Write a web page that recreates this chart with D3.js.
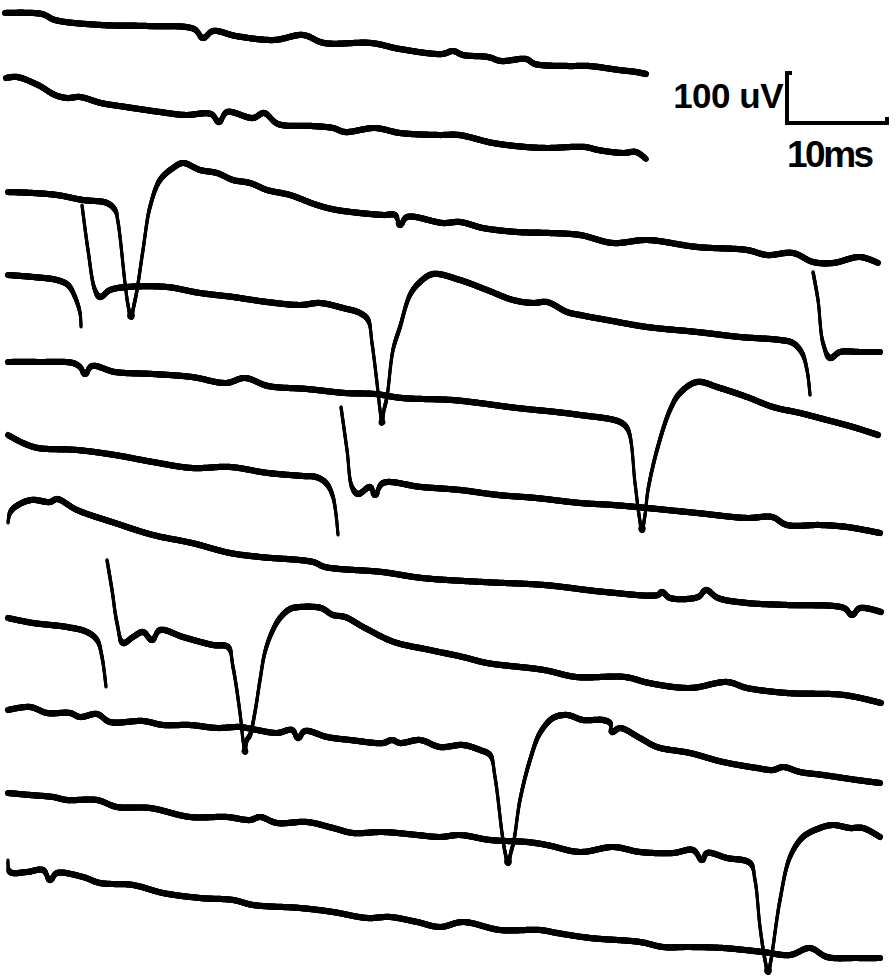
<!DOCTYPE html>
<html><head><meta charset="utf-8">
<script src="https://cdn.jsdelivr.net/npm/d3@7"></script>
<style>html,body{margin:0;padding:0;background:#fff;} svg{display:block;}</style>
</head><body>
<script>
// Time in ms, potential in uV (stacked sweeps, positive = up)
const sweep1 = [[0.5,-26],[4.2,-28],[5.5,-40],[10.1,-50],[14.7,-52],[19.4,-58],[20.3,-76],[21.3,-62],[23.6,-72],[27.4,-80],[30.3,-70],[32.4,-86],[37.1,-86],[40,-98],[44.2,-108],[45.3,-102],[46.3,-110],[48.8,-114],[50.1,-122],[52.6,-118],[53.5,-128],[56.8,-132],[58.9,-132],[61.9,-140],[63.6,-144],[64.6,-148]];
const sweep2 = [[0.6,-156],[1.7,-154],[3.8,-170],[5.5,-190],[6.7,-196],[8,-194],[10.1,-206],[12.6,-214],[16,-224],[18.5,-230],[21.1,-228],[21.9,-244],[22.7,-224],[25.3,-236],[26.4,-226],[27.8,-248],[31.2,-252],[33.3,-256],[34.5,-264],[37.5,-256],[40,-266],[43.8,-270],[45.9,-270],[49.3,-286],[52.6,-294],[54.7,-296],[58.5,-294],[59.8,-300],[62.3,-306],[63.6,-304],[64.6,-318]];
const sweep3 = [[0.8,-384],[3.3,-386],[5.7,-390],[8.3,-400],[10.7,-406],[11.5,-420],[11.8,-444],[12.5,-566],[12.8,-610],[13.1,-634],[13.4,-610],[13.7,-580],[14.3,-500],[15,-414],[16,-360],[17.3,-336],[18.3,-326],[20,-340],[21.7,-346],[23.3,-360],[25,-366],[26.7,-380],[29,-390],[31.7,-410],[33.7,-420],[38.3,-430],[39.5,-430],[40,-450],[40.7,-434],[44.3,-446],[46,-444],[48.3,-456],[51.7,-464],[55,-466],[58,-470],[61.3,-486],[64.7,-480],[69.7,-494],[74.7,-500],[76.7,-510],[79.3,-506],[81.3,-524],[83.3,-526],[86,-514],[87.8,-526]];
const sweep4a = [[0.8,-550],[3.3,-554],[5.7,-560],[6.8,-570],[7.5,-594],[8,-626],[8.1,-654]];
const sweep4b = [[8.2,-410],[8.8,-500],[9.5,-580],[10,-594],[11,-580],[12.7,-574],[16.7,-574],[20,-586],[23.3,-594],[26.7,-604],[30,-610],[32,-606],[34.3,-616],[36,-626],[36.8,-640],[37.2,-686],[37.7,-766],[38,-820],[38.2,-846],[38.4,-820],[38.7,-794],[39.3,-700],[40,-654],[41,-590],[42,-564],[43.3,-548],[46,-560],[48.7,-580],[51.3,-600],[53.3,-606],[54.7,-604],[56.7,-624],[58,-630],[60.7,-640],[64.7,-654],[69.7,-664],[74,-674],[78,-680],[79.3,-686],[80.2,-706],[80.7,-740],[81,-790]];
const sweep4c = [[81.3,-544],[81.8,-600],[82.3,-686],[83,-716],[84,-704],[86,-704],[88,-704]];
const sweep5 = [[0.8,-724],[3.8,-724],[7.3,-726],[8,-734],[8.5,-748],[9.2,-732],[11.5,-744],[15.3,-748],[19.2,-754],[22.6,-766],[24.5,-756],[26.8,-772],[30.7,-778],[34.5,-786],[37.5,-788],[40.2,-796],[45.2,-800],[47.9,-806],[51.7,-816],[55.6,-824],[58,-830],[62,-844],[62.8,-860],[63.5,-966],[63.9,-1030],[64.2,-1060],[64.5,-1030],[64.8,-980],[65.7,-900],[67,-820],[68,-786],[69.7,-764],[72,-776],[74.7,-794],[77.3,-814],[80,-826],[82.7,-840],[85.3,-854],[87.8,-870]];
const sweep6a = [[0.8,-870],[2.3,-886],[3.8,-896],[7.7,-900],[11.5,-910],[15.3,-924],[19.2,-936],[23,-934],[26.8,-946],[30.3,-952],[31.6,-954],[32.6,-966],[33.3,-994],[33.8,-1070]];
const sweep6b = [[34.1,-814],[34.7,-900],[35.2,-974],[35.8,-988],[37,-974],[37.5,-990],[38.3,-966],[42.1,-974],[46,-980],[49.8,-990],[53.6,-996],[58,-1006],[61.3,-1010],[64.7,-1016],[69.7,-1026],[74.7,-1036],[77.2,-1034],[78.7,-1050],[82,-1050],[84.7,-1054],[88,-1066]];
const sweep7 = [[0.8,-1046],[1,-1026],[1.5,-1014],[3.1,-1000],[5,-1004],[5.7,-998],[7.7,-1020],[11.5,-1046],[15.3,-1070],[19.2,-1086],[23,-1106],[26,-1114],[31.3,-1124],[32.5,-1134],[38.2,-1144],[42.2,-1156],[48.3,-1164],[54.4,-1170],[60.5,-1184],[65.8,-1190],[66.2,-1184],[67,-1196],[69.8,-1194],[70.6,-1180],[71.8,-1196],[74.7,-1206],[78.7,-1210],[84.4,-1216],[85.2,-1230],[86,-1216],[88.1,-1224]];
const sweep8a = [[0.8,-1236],[3.3,-1246],[6.7,-1254],[8.7,-1264],[9.7,-1280],[10.2,-1314],[10.6,-1374]];
const sweep8b = [[10.7,-1120],[11.2,-1180],[11.7,-1246],[12.3,-1286],[13.3,-1274],[14.3,-1264],[15.2,-1280],[16,-1260],[18.3,-1274],[21.3,-1290],[22.8,-1294],[23.3,-1334],[24,-1426],[24.3,-1480],[24.5,-1504],[24.7,-1480],[25,-1470],[25.5,-1424],[26,-1360],[26.5,-1304],[27.2,-1264],[28,-1236],[29,-1218],[30,-1214],[32.1,-1216],[33.3,-1230],[34.5,-1234],[36.5,-1256],[39.4,-1284],[43,-1300],[46.3,-1314],[48.7,-1326],[54.4,-1340],[57.6,-1354],[62.5,-1354],[64.9,-1366],[69,-1376],[72.7,-1364],[74.7,-1376],[78.7,-1386],[84.4,-1390],[88.1,-1406]];
const sweep9 = [[0.8,-1420],[3,-1414],[4.7,-1426],[7,-1426],[8,-1434],[9.7,-1428],[11,-1444],[14.3,-1442],[16.3,-1450],[19,-1450],[21.7,-1456],[24,-1454],[25.7,-1460],[27.7,-1466],[29.2,-1460],[29.8,-1476],[30.5,-1462],[32.7,-1474],[35,-1480],[38.3,-1486],[39.2,-1480],[40,-1486],[42,-1480],[44,-1494],[46.3,-1490],[48,-1500],[49,-1510],[49.5,-1554],[50.2,-1666],[50.5,-1704],[50.8,-1726],[51.1,-1704],[51.4,-1680],[52,-1600],[53,-1520],[54,-1466],[55.3,-1436],[56.7,-1430],[58.3,-1440],[60.3,-1440],[61,-1446],[61.2,-1464],[62,-1456],[64,-1476],[65.7,-1494],[69,-1506],[72.3,-1524],[75.7,-1536],[77.3,-1540],[78.3,-1534],[80,-1544],[82.3,-1550],[85.7,-1560],[88,-1566]];
const sweep10 = [[0.8,-1586],[3,-1590],[5.3,-1594],[6.7,-1600],[9.7,-1600],[11.7,-1614],[15,-1616],[19,-1634],[22.7,-1634],[25,-1640],[26,-1634],[27.7,-1646],[30.7,-1644],[33.3,-1656],[35.3,-1666],[38.3,-1664],[41.7,-1670],[44,-1674],[46,-1670],[49,-1680],[52.7,-1684],[54.7,-1690],[58,-1704],[61.3,-1694],[64,-1704],[67.3,-1706],[69.3,-1700],[70.2,-1720],[70.7,-1706],[72.7,-1716],[75,-1726],[75.5,-1760],[76,-1854],[76.5,-1920],[76.8,-1944],[77.1,-1920],[77.3,-1894],[78,-1800],[79,-1714],[80.3,-1674],[82,-1656],[83.3,-1650],[85,-1656],[86.3,-1656],[88,-1674]];
const sweep11 = [[0.8,-1720],[1,-1744],[2.7,-1744],[4.3,-1740],[5,-1760],[5.7,-1746],[8.3,-1754],[10,-1766],[13.3,-1770],[16.3,-1786],[20,-1796],[23.3,-1800],[25.3,-1810],[30,-1816],[33.3,-1824],[36.7,-1836],[39,-1834],[41.7,-1844],[44,-1854],[46.3,-1844],[50,-1860],[54,-1860],[55.7,-1866],[59,-1876],[64,-1884],[66.3,-1894],[69,-1894],[72.3,-1896],[76.3,-1904],[79,-1910],[81,-1896],[82.7,-1914],[85.7,-1916],[88,-1916]];

const segments = [sweep1, sweep2, sweep3, sweep4a, sweep4b, sweep4c, sweep5, sweep6a, sweep6b, sweep7, sweep8a, sweep8b, sweep9, sweep10, sweep11];

// scale bar values
const barMs = 10;
const barUv = 100;
const barOrigin = [78.7, -246];
const barLabelV = "100 uV";
const barLabelT = "10ms";

const W = 896, H = 977;
const x = d3.scaleLinear().domain([0, 89.6]).range([0, W]);
const y = d3.scaleLinear().domain([0, -1954]).range([0, H]);

const svg = d3.select("body").append("svg").attr("width", W).attr("height", H);
svg.append("rect").attr("width", W).attr("height", H).attr("fill", "#fff");

const line = d3.line().x(d => x(d[0])).y(d => y(d[1])).curve(d3.curveCatmullRom.alpha(0.5));
const tmp = svg.append("path").attr("fill", "none").attr("stroke", "none");
const g = svg.append("g").attr("stroke", "#000").attr("stroke-linecap", "round").attr("fill", "none");

segments.forEach(seg => {
  tmp.attr("d", line(seg));
  const node = tmp.node();
  const L = node.getTotalLength();
  const step = 1.2;
  const pts = [];
  for (let s = 0; s <= L; s += step) { const p = node.getPointAtLength(s); pts.push([p.x, p.y]); }
  const pe = node.getPointAtLength(L); pts.push([pe.x, pe.y]);
  for (let i = 0; i < pts.length - 1; i++) {
    const a = pts[Math.max(0, i - 2)], b = pts[Math.min(pts.length - 1, i + 3)];
    const dx = Math.abs(b[0] - a[0]), dy = Math.abs(b[1] - a[1]);
    const slope = dy / Math.max(dx, 0.05);
    const w = 3.0 + 3.2 / (1 + Math.pow(slope / 2.2, 2));
    g.append("line").attr("x1", pts[i][0]).attr("y1", pts[i][1])
      .attr("x2", pts[i + 1][0]).attr("y2", pts[i + 1][1]).attr("stroke-width", w);
  }
});
tmp.remove();

// scale bar
const sb = svg.append("g").attr("stroke", "#000").attr("fill", "none").attr("stroke-width", 4).attr("stroke-linejoin", "miter");
const bx0 = x(barOrigin[0]), by0 = y(barOrigin[1]);
const bx1 = x(barOrigin[0] + barMs), by1 = y(barOrigin[1] + barUv);
sb.append("path").attr("d", `M${bx0 + 5},${by1} L${bx0},${by1} L${bx0},${by0} L${bx1},${by0} L${bx1},${by0 - 6}`);

svg.append("text").attr("x", bx0 - 4).attr("y", by0 - 15).attr("text-anchor", "end")
  .attr("font-family", "Liberation Sans, Arial, sans-serif").attr("font-weight", "bold")
  .attr("font-size", 35).attr("letter-spacing", -0.5).text(barLabelV);
svg.append("text").attr("x", bx0).attr("y", by0 + 44).attr("text-anchor", "start")
  .attr("font-family", "Liberation Sans, Arial, sans-serif").attr("font-weight", "bold")
  .attr("font-size", 37).attr("letter-spacing", -2.5).text(barLabelT);
</script>
</body></html>
